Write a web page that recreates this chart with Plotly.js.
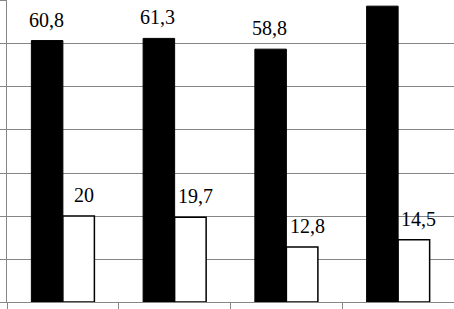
<!DOCTYPE html>
<html>
<head>
<meta charset="utf-8">
<script src="https://cdn.plot.ly/plotly-3.0.1.min.js"></script>
<style>
html,body{margin:0;padding:0;background:#fff;}
#chart{width:454px;height:309px;}
</style>
</head>
<body>
<div id="chart"></div>
<script>
// categories (their labels are cropped out of the reference)
const categories = ["1", "2", "3", "4"];
const seriesA = [60.8, 61.3, 58.8, 68.8];   // black bars
const seriesB = [20, 19.7, 12.8, 14.5];     // white bars
const labelsA = ["60,8", "61,3", "58,8", ""]; // last label cropped off above the frame
const labelsB = ["20", "19,7", "12,8", "14,5"];

const labelFont = {family: 'Liberation Serif', size: 20, color: '#000'};
const wrap = t => '<span style="font-family:Liberation Serif">' + t + '</span>';
const halfBar = 0.141;
const annotations = [];
categories.forEach((c, i) => {
  if (labelsA[i]) annotations.push({
    x: i - halfBar, y: seriesA[i], xref: 'x', yref: 'y', text: wrap(labelsA[i]),
    showarrow: false, yanchor: 'bottom', yshift: 8, xshift: -1, font: labelFont
  });
  if (labelsB[i]) annotations.push({
    x: i + halfBar, y: seriesB[i], xref: 'x', yref: 'y', text: wrap(labelsB[i]),
    showarrow: false, yanchor: 'bottom', yshift: 8, xshift: 5, font: labelFont
  });
});

const data = [
  {type: 'bar', x: categories, y: seriesA, name: 'A',
   marker: {color: '#000', line: {color: '#000', width: 1}}, hoverinfo: 'none'},
  {type: 'bar', x: categories, y: seriesB, name: 'B',
   marker: {color: '#fff', line: {color: '#000', width: 1.5}}, hoverinfo: 'none'}
];

const layout = {
  width: 454, height: 309,
  margin: {l: 7, r: 0, t: 0, b: 7, pad: 0},
  paper_bgcolor: '#fff', plot_bgcolor: '#fff',
  font: {family: 'Liberation Serif'},
  showlegend: false,
  barmode: 'group', bargap: 0.436, bargroupgap: 0,
  xaxis: {
    type: 'category', showticklabels: false, showgrid: false, zeroline: false,
    showline: true, linecolor: '#868686', linewidth: 1,
    ticks: 'outside', tickson: 'boundaries', ticklen: 7, tickcolor: '#868686', tickwidth: 1
  },
  yaxis: {
    range: [0, 70.23], dtick: 10, showticklabels: false,
    showgrid: true, gridcolor: '#868686', gridwidth: 1, zeroline: false,
    showline: true, linecolor: '#868686', linewidth: 1,
    ticks: 'outside', ticklen: 7, tickcolor: '#868686', tickwidth: 1
  },
  annotations: annotations
};

Plotly.newPlot('chart', data, layout, {staticPlot: true, displayModeBar: false});
</script>
</body>
</html>
